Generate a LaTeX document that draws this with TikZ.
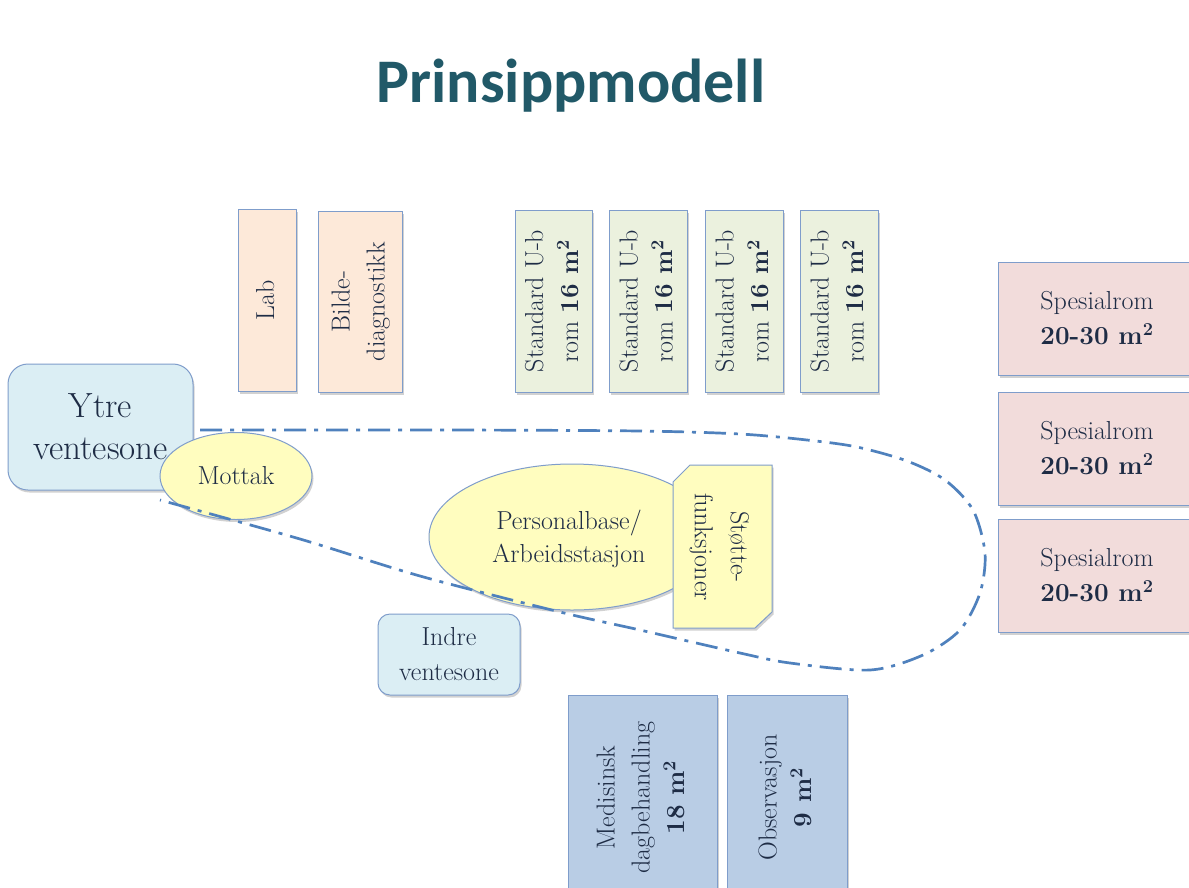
\documentclass[tikz,border=0pt]{standalone}
\usepackage{fontspec}
\usepackage{graphicx}
\newfontfamily\titlefont{Carlito}
\usetikzlibrary{shapes.geometric,shadows}
\definecolor{bordc}{HTML}{7F9DCB}
\definecolor{txt}{HTML}{1E2C45}
\definecolor{titlec}{HTML}{215968}
\definecolor{peach}{HTML}{FDE9D9}
\definecolor{olive}{HTML}{EBF1DE}
\definecolor{rose}{HTML}{F2DCDB}
\definecolor{aqua}{HTML}{DBEEF4}
\definecolor{yel}{HTML}{FFFDBF}
\definecolor{steel}{HTML}{B9CDE5}
\definecolor{zonec}{HTML}{4F81BD}
\tikzset{
  room/.style={draw=bordc, line width=1pt, inner sep=0pt, text=txt,
    font=\fontsize{26}{35}\selectfont, align=center,
    drop shadow={shadow xshift=1.5pt, shadow yshift=-2.5pt, opacity=0.18, fill=black}},
  wait/.style={room, fill=aqua},
  yelshape/.style={room, fill=yel},
  zone/.style={draw=zonec, line width=2.7pt, dash pattern=on 22pt off 8pt on 4pt off 8pt}
}
\newcommand{\vtext}[2]{\rotatebox{#1}{\begin{tabular}{@{}c@{}}#2\end{tabular}}}
\newcommand{\msq}{m\textsuperscript{2}}
\begin{document}
\begin{tikzpicture}[x=1pt,y=-1pt]
\useasboundingbox (0,0) rectangle (1189,887);
\clip (0,0) rectangle (1189,887);
\fill[white] (0,0) rectangle (1189,887);

\node (title) [anchor=base, font=\titlefont\bfseries\fontsize{62}{70}\selectfont, text=titlec] at (571,102) {Prinsippmodell};

% top row
\node (lab) [room, fill=peach, minimum width=58, minimum height=182] at (267,300) {\vtext{90}{Lab}};
\node (bilde) [room, fill=peach, minimum width=84, minimum height=181] at (360,301.5) {\vtext{90}{Bilde-\\diagnostikk}};
\node (std1) [room, fill=olive, minimum width=77, minimum height=182] at (553.5,301) {\vtext{90}{Standard U-b\\rom \textbf{16 \msq}}};
\node (std2) [room, fill=olive, minimum width=78, minimum height=182] at (648,301) {\vtext{90}{Standard U-b\\rom \textbf{16 \msq}}};
\node (std3) [room, fill=olive, minimum width=78, minimum height=182] at (744,301) {\vtext{90}{Standard U-b\\rom \textbf{16 \msq}}};
\node (std4) [room, fill=olive, minimum width=78, minimum height=182] at (839,301) {\vtext{90}{Standard U-b\\rom \textbf{16 \msq}}};

% right column
\node (sp1) [room, fill=rose, minimum width=198, minimum height=113] at (1097,318.5) {Spesialrom\\\textbf{20-30 \msq}};
\node (sp2) [room, fill=rose, minimum width=198, minimum height=113] at (1097,448.5) {Spesialrom\\\textbf{20-30 \msq}};
\node (sp3) [room, fill=rose, minimum width=198, minimum height=113] at (1097,575.5) {Spesialrom\\\textbf{20-30 \msq}};

% waiting zones
\node (ytre) [wait, rounded corners=20pt, minimum width=185, minimum height=126, font=\fontsize{35}{42}\selectfont] at (100.5,427) {Ytre\\ventesone};
\node (indre) [wait, rounded corners=12pt, minimum width=142, minimum height=81] at (449,654.5) {Indre\\ventesone};

% reception and staff base
\node (mottak) [yelshape, ellipse, minimum width=152, minimum height=87] at (236,476) {Mottak};
\node (base) [yelshape, ellipse, minimum width=286, minimum height=146] at (572,537) {};
\node (basetxt) [text=txt, font=\fontsize{26}{33}\selectfont, align=center] at (569,539) {Personalbase/\\Arbeidsstasjon};
\path[yelshape] (673,482) -- (690,465) -- (772,465) -- (772,612) -- (755,628) -- (673,628) -- cycle;
\node (stotte) [text=txt, font=\fontsize{26}{36}\selectfont, inner sep=0pt] at (720,547) {\vtext{-90}{Støtte-\\funksjoner}};

% bottom row
\node (med) [room, fill=steel, minimum width=149, minimum height=205] at (642.5,797.5) {\vtext{90}{Medisinsk\\dagbehandling\\\textbf{18 \msq}}};
\node (obs) [room, fill=steel, minimum width=120, minimum height=205] at (787,797.5) {\vtext{90}{Observasjon\\\textbf{9 \msq}}};

% dash-dot zone
\draw[zone] plot[smooth, tension=0.5] coordinates {(200,430) (450,430) (640,431) (740,434) (807,440) (857,447) (907,461) (945,480) (973,510) (985,553) (980,593) (960,630) (923,655) (870,670) (790,663) (740,653) (640,630) (560,612) (420,576) (300,539) (160,500)};
\end{tikzpicture}
\end{document}
